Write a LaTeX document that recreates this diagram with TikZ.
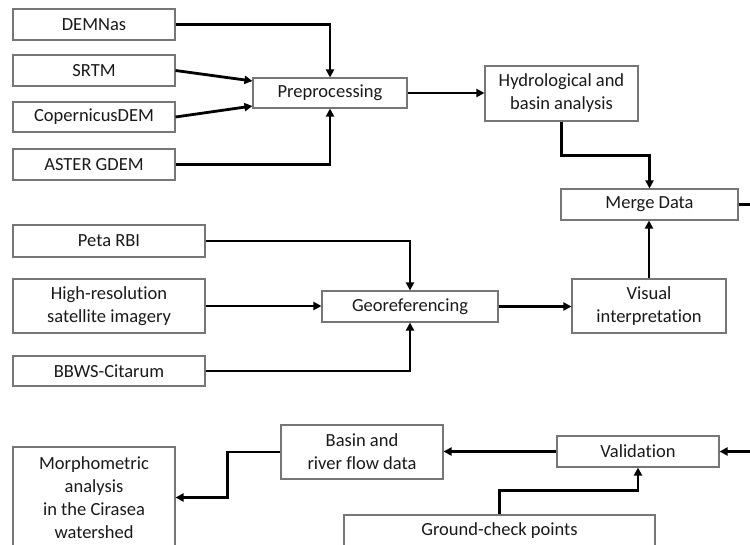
\documentclass[tikz,border=0pt]{standalone}
\usepackage{fontspec}
\setmainfont{Carlito}[Ligatures=NoCommon]
\usetikzlibrary{arrows.meta}
\definecolor{boxgray}{RGB}{118,118,118}
\begin{document}
\begin{tikzpicture}[x=1pt,y=-1pt,
  box/.style={draw=boxgray, line width=1.1pt, inner sep=0pt, align=center,
    font=\fontsize{18.5}{23}\selectfont, text=black!90},
  arr/.style={line width=2.8pt, -{Triangle[length=8pt,width=8pt]}},
  ln/.style={line width=2.8pt}]
\useasboundingbox (0,0) rectangle (750,544);
\clip (0,0) rectangle (750,544);
% nodes
\node[box, minimum width=162pt, minimum height=31pt] (dem) at (94,24.5) {DEMNas};
\node[box, minimum width=162pt, minimum height=31pt] (srtm) at (94,70.5) {SRTM};
\node[box, minimum width=162pt, minimum height=30pt] (cop) at (94,117) {CopernicusDEM};
\node[box, minimum width=162pt, minimum height=31pt] (aster) at (94,164.5) {ASTER GDEM};
\node[box, minimum width=154pt, minimum height=30pt] (pre) at (330,93) {Preprocessing};
\node[box, minimum width=153pt, minimum height=55pt] (hydro) at (561.5,93.5) {Hydrological and\\basin analysis};
\node[box, minimum width=177pt, minimum height=31pt] (merge) at (649.5,204.5) {Merge Data};
\node[box, minimum width=192pt, minimum height=32pt] (peta) at (109,241) {Peta RBI};
\node[box, minimum width=192pt, minimum height=54pt] (hires) at (109,306) {High-resolution\\satellite imagery};
\node[box, minimum width=192pt, minimum height=30pt] (bbws) at (109,371) {BBWS-Citarum};
\node[box, minimum width=176pt, minimum height=31pt] (geo) at (410,306.5) {Georeferencing};
\node[box, minimum width=154pt, minimum height=54pt] (visual) at (649,306) {Visual\\interpretation};
\node[box, minimum width=162pt, minimum height=54pt] (basin) at (362,452) {Basin and\\river flow data};
\node[box, minimum width=162pt, minimum height=31pt] (val) at (638,451.5) {Validation};
\node[box, minimum width=162pt, minimum height=101pt] (morph) at (94,497.5) {Morphometric\\analysis\\in the Cirasea\\watershed};
\node[box, minimum width=311pt, minimum height=31pt] (ground) at (499.5,530.5) {Ground-check points};
\coordinate (mergeout) at (752,204.5);
\coordinate (valin) at (752,451.5);
% connectors
\draw[arr] (dem.east) -| (pre.north);
\draw[arr] (srtm.east) -- ([yshift=12pt]pre.west);
\draw[arr] (cop.east) -- ([yshift=-13pt]pre.west);
\draw[arr] (aster.east) -| (pre.south);
\draw[arr] (pre.east) -- (hydro.west |- pre.east);
\draw[arr] (hydro.south) -- ++(0,34) -| (merge.north);
\draw[arr] (visual.north) -- (merge.south -| visual.north);
\draw[ln] (merge.east) -- (mergeout);
\draw[arr] (peta.east) -| (geo.north);
\draw[arr] (hires.east) -- (geo.west |- hires.east);
\draw[arr] (bbws.east) -| (geo.south);
\draw[arr] (geo.east) -- (visual.west |- geo.east);
\draw[arr] (valin) -- (val.east);
\draw[arr] (val.west) -- (val.west -| basin.east);
\draw[arr] (basin.west) -- ++(-53,0) |- (morph.east);
\draw[arr] (ground.north) -- ++(0,-24) -| (val.south);
\end{tikzpicture}
\end{document}
